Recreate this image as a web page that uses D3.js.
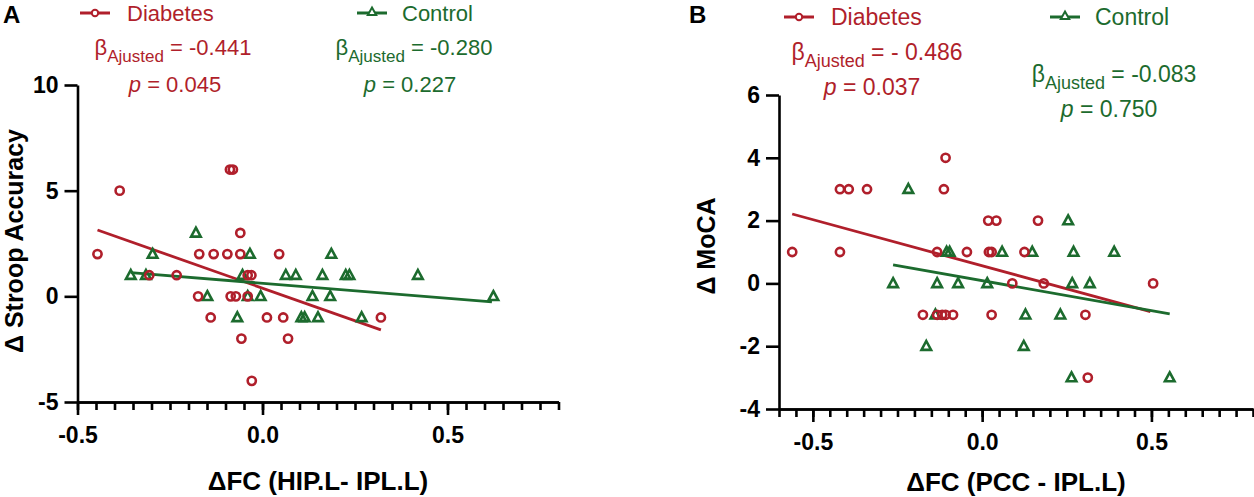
<!DOCTYPE html>
<html>
<head>
<meta charset="utf-8">
<script src="https://cdn.jsdelivr.net/npm/d3@7"></script>
<style>
  body { margin: 0; background: #fff; }
  svg { font-family: "Liberation Sans", Arial, sans-serif; }
</style>
</head>
<body>
<svg id="chart" width="1254" height="497"></svg>
<script>

// panel A : stroop accuracy vs FC (HIP.L - IPL.L)
var stroopDiabetes = [
  [-0.446, 2], [-0.386, 5], [-0.306, 1], [-0.232, 1], [-0.174, 0], [-0.171, 2],
  [-0.14, -1], [-0.132, 2], [-0.095, 2], [-0.088, 6], [-0.08, 6], [-0.086, 0],
  [-0.072, 0], [-0.06, 3], [-0.06, 2], [-0.057, -2], [-0.04, 1], [-0.03, 1],
  [-0.04, 0], [-0.029, -4], [0.012, -1], [0.045, 2], [0.056, -1], [0.069, -2],
  [0.32, -1]
];
var stroopControl = [
  [-0.356, 1], [-0.315, 1], [-0.297, 2], [-0.18, 3], [-0.149, 0], [-0.068, -1],
  [-0.054, 1], [-0.04, 0], [-0.034, 2], [-0.005, 0], [0.063, 1], [0.09, 1],
  [0.105, -1], [0.114, -1], [0.135, 0], [0.15, -1], [0.162, 1], [0.183, 0],
  [0.186, 2], [0.225, 1], [0.235, 1], [0.268, -1], [0.42, 1], [0.624, 0]
];
// fitted lines (end points)
var stroopDiabetesFit = [[-0.446, 3.14], [0.32, -1.59]];
var stroopControlFit = [[-0.356, 1.12], [0.62, -0.26]];

// panel B : MoCA vs FC (PCC - IPL.L)
var mocaDiabetes = [
  [-0.561, 1], [-0.42, 3], [-0.394, 3], [-0.42, 1], [-0.34, 3], [-0.175, -1],
  [-0.133, 1], [-0.133, -1], [-0.118, -1], [-0.108, -1], [-0.113, 3], [-0.108, 4],
  [-0.086, -1], [-0.045, 1], [0.018, 2], [0.042, 2], [0.02, 1], [0.028, 1],
  [0.028, -1], [0.089, 0], [0.125, 1], [0.165, 2], [0.182, 0], [0.305, -1],
  [0.312, -3], [0.505, 0]
];
var mocaControl = [
  [-0.263, 0], [-0.218, 3], [-0.165, -2], [-0.138, -1], [-0.133, 0], [-0.105, 1],
  [-0.096, 1], [-0.071, 0], [0.015, 0], [0.059, 1], [0.123, -2], [0.128, -1],
  [0.148, 1], [0.231, -1], [0.254, 2], [0.264, -3], [0.266, 0], [0.27, 1],
  [0.318, 0], [0.39, 1], [0.554, -3]
];
var mocaDiabetesFit = [[-0.561, 2.21], [0.497, -0.9]];
var mocaControlFit = [[-0.263, 0.59], [0.554, -0.97]];

// tick labels
var stroopXTicks = [-0.5, 0.0, 0.5];
var stroopYTicks = [-5, 0, 5, 10];
var mocaXTicks = [-0.5, 0.0, 0.5];
var mocaYTicks = [-4, -2, 0, 2, 4, 6];

var red = "#b01f2b";
var green = "#1c6b2e";

let svg = d3.select("#chart");

// graphpad uses a plain hyphen, not the unicode minus d3 puts in
function hyphen(fmt) {
  let f = d3.format(fmt);
  return d => f(d).replace("\u2212", "-");
}

function drawPanel(opt) {
  let g = svg.append("g");

  let xScale = d3.scaleLinear().domain(opt.xDomain).range(opt.xRange);
  let yScale = d3.scaleLinear().domain(opt.yDomain).range(opt.yRange);
  let bottom = opt.yRange[0];
  let left = opt.xRange[0];

  // minor ticks on the x axis every 0.05
  let minor = d3.range(Math.round(opt.xDomain[0] * 20), Math.round(opt.xDomain[1] * 20) + 1).map(d => d / 20);
  g.append("g")
    .attr("transform", "translate(0," + bottom + ")")
    .call(d3.axisBottom(xScale).tickValues(minor).tickSize(8).tickFormat("").tickSizeOuter(0));

  g.append("g")
    .attr("transform", "translate(0," + bottom + ")")
    .call(d3.axisBottom(xScale)
      .tickValues(opt.xTicks)
      .tickSize(13)
      .tickPadding(12)
      .tickFormat(hyphen(".1f"))
      .tickSizeOuter(0));

  g.append("g")
    .attr("transform", "translate(" + left + ",0)")
    .call(d3.axisLeft(yScale)
      .tickValues(opt.yTicks)
      .tickSize(13)
      .tickPadding(6)
      .tickFormat(hyphen("d"))
      .tickSizeOuter(0));

  g.selectAll(".domain, .tick line")
    .attr("stroke", "#000")
    .attr("stroke-width", 2.6);
  g.selectAll(".tick text")
    .attr("fill", "#000")
    .style("font-size", "23px")
    .style("font-weight", "bold");

  // axis titles
  g.append("text")
    .attr("x", (opt.xRange[0] + opt.xRange[1]) / 2)
    .attr("y", opt.xTitleY)
    .attr("text-anchor", "middle")
    .style("font-size", "26px")
    .style("font-weight", "bold")
    .text(opt.xTitle);

  g.append("text")
    .attr("transform", "translate(" + opt.yTitleX + "," + opt.yTitleMid + ") rotate(-90)")
    .attr("text-anchor", "middle")
    .style("font-size", opt.yTitleSize + "px")
    .style("font-weight", "bold")
    .text(opt.yTitle);

  let line = d3.line().x(d => xScale(d[0])).y(d => yScale(d[1]));

  g.append("path").datum(opt.dFit)
    .attr("d", line).attr("fill", "none").attr("stroke", red).attr("stroke-width", 2.8);
  g.append("path").datum(opt.cFit)
    .attr("d", line).attr("fill", "none").attr("stroke", green).attr("stroke-width", 2.8);

  // control triangles
  g.selectAll(".tri")
    .data(opt.control)
    .join("path")
    .attr("class", "tri")
    .attr("d", "M0,-5.2L4.8,3.7L-4.8,3.7Z")
    .attr("transform", d => "translate(" + xScale(d[0]) + "," + yScale(d[1]) + ")")
    .attr("fill", "none")
    .attr("stroke", green)
    .attr("stroke-width", 2.6)
    .attr("stroke-linejoin", "miter");

  // diabetes circles
  g.selectAll(".dot")
    .data(opt.diabetes)
    .join("circle")
    .attr("class", "dot")
    .attr("cx", d => xScale(d[0]))
    .attr("cy", d => yScale(d[1]))
    .attr("r", 4.1)
    .attr("fill", "none")
    .attr("stroke", red)
    .attr("stroke-width", 2.6);

  // panel letter
  g.append("text")
    .attr("x", opt.letterX).attr("y", 23)
    .style("font-size", "24px").style("font-weight", "bold")
    .text(opt.letter);

  // legend
  let lg = opt.legend;
  let ls = lg.size;
  g.append("line").attr("x1", lg.dX).attr("x2", lg.dX + 30).attr("y1", lg.y).attr("y2", lg.y)
    .attr("stroke", red).attr("stroke-width", 3);
  g.append("circle").attr("cx", lg.dX + 15).attr("cy", lg.y).attr("r", 3.2)
    .attr("fill", "#fff").attr("stroke", red).attr("stroke-width", 2);
  g.append("text").attr("x", lg.dX + 47).attr("y", lg.y + 8)
    .attr("fill", red).style("font-size", ls + "px").text("Diabetes");

  g.append("line").attr("x1", lg.cX).attr("x2", lg.cX + 30).attr("y1", lg.y).attr("y2", lg.y)
    .attr("stroke", green).attr("stroke-width", 3);
  g.append("path").attr("d", "M0,-4.5L4.2,3L-4.2,3Z")
    .attr("transform", "translate(" + (lg.cX + 15) + "," + (lg.y - 1) + ")")
    .attr("fill", "#fff").attr("stroke", green).attr("stroke-width", 2);
  g.append("text").attr("x", lg.cX + 45).attr("y", lg.y + 8)
    .attr("fill", green).style("font-size", ls + "px").text("Control");

  // beta and p values
  opt.stats.forEach(s => {
    let t = g.append("text")
      .attr("x", s.x).attr("y", s.betaY)
      .attr("text-anchor", "middle")
      .attr("fill", s.color)
      .style("font-size", ls + "px");
    t.append("tspan").text("β");
    t.append("tspan").attr("dy", 7).style("font-size", (ls - 5) + "px").text("Ajusted");
    t.append("tspan").attr("dy", -7).text(" = " + s.beta);

    let p = g.append("text")
      .attr("x", s.px).attr("y", s.pY)
      .attr("text-anchor", "middle")
      .attr("fill", s.color)
      .style("font-size", ls + "px");
    p.append("tspan").style("font-style", "italic").text("p");
    p.append("tspan").text(" = " + s.p);
  });
}

drawPanel({
  letter: "A", letterX: 3,
  xDomain: [-0.5, 0.8], xRange: [77.5, 558.5],
  yDomain: [-5, 10], yRange: [402, 85],
  xTicks: stroopXTicks, yTicks: stroopYTicks,
  xTitle: "ΔFC (HIP.L- IPL.L)", xTitleY: 490,
  yTitle: "Δ Stroop Accuracy", yTitleX: 23, yTitleMid: 241, yTitleSize: 25,
  diabetes: stroopDiabetes, control: stroopControl,
  dFit: stroopDiabetesFit, cFit: stroopControlFit,
  legend: { dX: 80, cX: 357, y: 13, size: 22 },
  stats: [
    { color: red, x: 173, betaY: 55, beta: "-0.441", px: 175, pY: 92, p: "0.045" },
    { color: green, x: 414, betaY: 55, beta: "-0.280", px: 410, pY: 92, p: "0.227" }
  ]
});

drawPanel({
  letter: "B", letterX: 689,
  xDomain: [-0.6, 0.8], xRange: [779, 1253],
  yDomain: [-4, 6], yRange: [409, 95],
  xTicks: mocaXTicks, yTicks: mocaYTicks,
  xTitle: "ΔFC (PCC - IPL.L)", xTitleY: 491,
  yTitle: "Δ MoCA", yTitleX: 715, yTitleMid: 246, yTitleSize: 25,
  diabetes: mocaDiabetes, control: mocaControl,
  dFit: mocaDiabetesFit, cFit: mocaControlFit,
  legend: { dX: 784, cX: 1050, y: 17, size: 23 },
  stats: [
    { color: red, x: 877, betaY: 60, beta: "- 0.486", px: 872, pY: 95, p: "0.037" },
    { color: green, x: 1114, betaY: 82, beta: "-0.083", px: 1109, pY: 117, p: "0.750" }
  ]
});
</script>
</body>
</html>
